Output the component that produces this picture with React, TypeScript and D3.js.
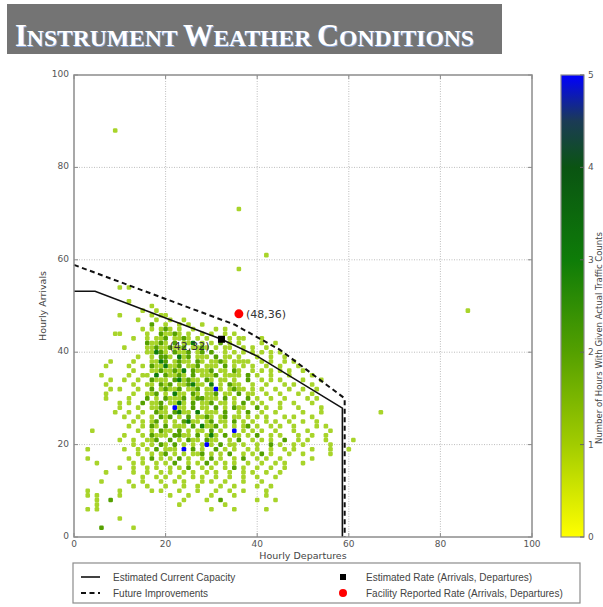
import React from "react";
import * as d3 from "d3";

const W = 603;
const H = 607;

const xTicks = [0, 20, 40, 60, 80, 100];
const yTicks = [0, 20, 40, 60, 80, 100];
const cbTicks = [0, 1, 2, 3, 4, 5];

// Traffic count grid: row i = arrivals (54 - i), char index = departures, digit = hours
const topArrivals = 54;
const countRows: string[] = [
  "..........1.1",
  "",
  "",
  "............1",
  ".................1",
  "...............1..1",
  "..........1......1.11",
  "..............1...1..1..1",
  ".................2..1..1.1..1",
  "...............1.1.121.1..1....1.1",
  ".........11.....1..21121.1..1.1..1.1",
  ".............1..1.112.1121.1.1..1.1.11...1",
  "................21121.2.113.1.1.2.1.1....1..1",
  "...........1....112112112.1121.1.11..1.1..1",
  "................11321.2112.12.2..1.1.1.1.1.1.1",
  "..............1..1.221.312.111.2.11.1...1..1..1",
  "........1....1...1132.1211.21.1121.1111..1.1..1.1",
  ".......1....1..1.2113112.112.111.2.1.1.1..1..1...1",
  ".............1...11211213.21112.11.21..1.1.1.1.1..1",
  "......1.....1..11.3.21121.2.1112.1111.2.1..1...1....1",
  "........1..1..1..2111.231211.21.11.1..2..1.1.1....1...1",
  ".......1.....1..11.212.112311.3.1.211..1..1...1.1...1",
  "........1.1...1..2.12112.112.1151.1211.1.1..1..1..1..1",
  ".......1.....1..112.1.311.21.112.11.2.11..1..1...1..1",
  ".......1....1...2.1.21112.122111.2.1..2.1..1..1....1.1",
  "..........1.1..2.112.1131.2.112.11.1.2.1.1...1..1...1",
  "..........1...1..1121.511.2.11.2.1.211..2.1..1...1....1",
  ".........1..1..1..211.2311.3.111.2..1.2..1..1.....1...1",
  "...........1..1..1.212.1.2.1121.12.11.1.1.1...1.1...1",
  ".............1.1.12.1.1.2311.12.11.2.1.1..1.1..1..1..1",
  "............1..1.21.2.111.2.3112.1.1.12.1..1.1..1....1.1",
  "....1.........1..1.211.2.1.11.2.1..5.1.1.1..1...1..1....1",
  "...........1...1.2111.2211.2.131.2.11.1.2..1.1...1..1..1",
  "..........1..1..112..2.1.211.211..1.2..1.1.1..2..1.1...1.....1",
  ".............1.1.1.21.2.1.1.151.2.11.1..1..2.1..1.1.....1",
  "...1.......1..1.1.2.111.5.2.1..2.1.1..1.1..1..1.1...1...1...1",
  "..............1..1.12.1.1.112.1.1.2..1.1.2.1...1..1.....1",
  "...1........1..1.2.1.1.2.1..1.2.1..1.2..1.1..1......1",
  ".....1.......1.1..1.1.2..1.1.2.1.1.1..1..1..1.1...1",
  "..........1..1..1.1..1.1.2..1.1..1.2.1..1..1..1",
  ".......1.....1..1..1.1..1.1..1.1..1..1.1..1..1",
  "...............1..1.1..1..1.1..1..1..1..1...1",
  "......1.....1..1...1..1.1...1.1..1...1...1",
  ".............1..1...1...1..1....1..1....1..1",
  "...1......1......1.1...1...1...1..1..1....1",
  "...1.1....1..........1...1....1....1......1",
  ".....1..2...............1....1..2.......1...1",
  ".....1.................1.........1",
  "...1.1........................1....1......1",
  "",
  "..........1",
  "",
  "......2......1",
  "",
  "",
];

const outlierDep = [9, 36, 42, 36, 86, 67];
const outlierArr = [88, 71, 61, 58, 49, 27];
const outlierCount = [1, 1, 1, 1, 1, 1];

const capacityDep = [0, 4.6, 32.2, 39.9, 58.6, 58.6];
const capacityArr = [53.2, 53.2, 42.8, 39.2, 27.9, 0];
const futureDep = [0, 35, 45, 59.1, 59.1];
const futureArr = [58.9, 46, 40.5, 30, 0];

const estimatedRate = [32.2, 42.8];
const estimatedLabel = "(42,32)";
const reportedRate = [36, 48.3];
const reportedLabel = "(48,36)";

const legendLabels = [
  "Estimated Current Capacity",
  "Future Improvements",
  "Estimated Rate (Arrivals, Departures)",
  "Facility Reported Rate (Arrivals, Departures)",
];

const colorDomain = [0, 1, 2, 3, 4, 4.5, 5];
const colorRange = ["#ffff00", "#a8d42a", "#54a000", "#0e7c08", "#0a5412", "#1b3b55", "#0000ff"];
const cbRange = ["#ffff00", "#a2cc00", "#54a000", "#0e7c08", "#0a5412", "#1b3b55", "#0000ff"];

type Cell = { d: number; a: number; c: number };

export default function App() {
  const x = d3.scaleLinear().domain([0, 100]).range([74, 532]);
  const y = d3.scaleLinear().domain([0, 100]).range([537, 75]);
  const color = d3.scaleLinear<string>().domain(colorDomain).range(colorRange);
  const cbColor = d3.scaleLinear<string>().domain(colorDomain).range(cbRange);
  const cb = d3.scaleLinear().domain([0, 5]).range([537, 75]);

  const cells: Cell[] = [];
  countRows.forEach((row, i) => {
    const a = topArrivals - i;
    for (let j = 0; j < row.length; j++) {
      const chr = row[j];
      if (chr !== ".") cells.push({ d: j, a, c: +chr });
    }
  });
  outlierDep.forEach((d, i) => cells.push({ d, a: outlierArr[i], c: outlierCount[i] }));

  const cw = x(1) - x(0);
  const ch = y(0) - y(1);

  const lineGen = d3.line<[number, number]>().x((d) => x(d[0])).y((d) => y(d[1]));
  const capPath = lineGen(capacityDep.map((d, i) => [d, capacityArr[i]] as [number, number]));
  const futPath = lineGen(futureDep.map((d, i) => [d, futureArr[i]] as [number, number]));

  const gradStops = d3.range(0, 5.01, 0.25);
  const tickFont = "DejaVu Sans, sans-serif";

  const titleParts = (
    <>
      <tspan fontSize={31}>I</tspan>
      <tspan fontSize={24}>NSTRUMENT </tspan>
      <tspan fontSize={31}>W</tspan>
      <tspan fontSize={24}>EATHER </tspan>
      <tspan fontSize={31}>C</tspan>
      <tspan fontSize={24}>ONDITIONS</tspan>
    </>
  );

  return (
    <svg width={W} height={H} style={{ position: "absolute", left: 0, top: 0, background: "#fff" }}>
      <defs>
        <linearGradient id="cbgrad" x1="0" y1="1" x2="0" y2="0">
          {gradStops.map((v) => (
            <stop key={v} offset={`${(v / 5) * 100}%`} stopColor={cbColor(v)} />
          ))}
        </linearGradient>
        <filter id="soft" x="-20%" y="-20%" width="140%" height="140%">
          <feGaussianBlur stdDeviation="0.6" />
        </filter>
      </defs>

      {/* Title banner */}
      <rect x={7} y={4} width={495} height={50} fill="#747474" />
      <text
        x={16}
        y={47}
        fontFamily="Liberation Serif, DejaVu Serif, serif"
        fontWeight="bold"
        fill="#8aa6d8"
        textLength={459}
        lengthAdjust="spacingAndGlyphs"
      >
        {titleParts}
      </text>
      <text
        x={15}
        y={46}
        fontFamily="Liberation Serif, DejaVu Serif, serif"
        fontWeight="bold"
        fill="#ffffff"
        textLength={459}
        lengthAdjust="spacingAndGlyphs"
      >
        {titleParts}
      </text>

      {/* grid */}
      {xTicks.slice(1, -1).map((t) => (
        <line key={"gx" + t} x1={x(t)} x2={x(t)} y1={y(0)} y2={y(100)} stroke="#bdbdbd" strokeDasharray="1,1.5" />
      ))}
      {yTicks.slice(1, -1).map((t) => (
        <line key={"gy" + t} x1={x(0)} x2={x(100)} y1={y(t)} y2={y(t)} stroke="#bdbdbd" strokeDasharray="1,1.5" />
      ))}

      {/* cells */}
      <g filter="url(#soft)">
        {cells.map((c, i) => (
          <rect
            key={i}
            x={x(c.d) - cw / 2}
            y={y(c.a) - ch / 2}
            width={cw}
            height={ch}
            rx={1.3}
            fill={color(c.c)}
          />
        ))}
      </g>

      {/* capacity lines */}
      <path d={futPath || ""} fill="none" stroke="#111" strokeWidth={2} strokeDasharray="5,3.5" />
      <path d={capPath || ""} fill="none" stroke="#111" strokeWidth={1.6} />

      {/* markers */}
      <rect x={x(estimatedRate[0]) - 3.5} y={y(estimatedRate[1]) - 3.5} width={7} height={7} fill="#000" />
      <text x={x(estimatedRate[0]) - 52} y={y(estimatedRate[1]) + 11} fontFamily={tickFont} fontSize={11} fill="#333">
        {estimatedLabel}
      </text>
      <circle cx={x(reportedRate[0])} cy={y(reportedRate[1])} r={4.5} fill="#ff0000" />
      <text x={x(reportedRate[0]) + 7} y={y(reportedRate[1]) + 4} fontFamily={tickFont} fontSize={11} fill="#333">
        {reportedLabel}
      </text>

      {/* axes frame */}
      <rect x={x(0)} y={y(100)} width={x(100) - x(0)} height={y(0) - y(100)} fill="none" stroke="#8c8c8c" strokeWidth={1.5} />
      {xTicks.map((t) => (
        <g key={"xt" + t}>
          <line x1={x(t)} x2={x(t)} y1={y(0)} y2={y(0) - 4} stroke="#8c8c8c" />
          <line x1={x(t)} x2={x(t)} y1={y(100)} y2={y(100) + 4} stroke="#8c8c8c" />
          <text x={x(t)} y={y(0) + 9.5} textAnchor="middle" fontFamily={tickFont} fontSize={9} fill="#555">
            {t}
          </text>
        </g>
      ))}
      {yTicks.map((t) => (
        <g key={"yt" + t}>
          <line x1={x(0)} x2={x(0) + 4} y1={y(t)} y2={y(t)} stroke="#8c8c8c" />
          <line x1={x(100)} x2={x(100) - 4} y1={y(t)} y2={y(t)} stroke="#8c8c8c" />
          <text x={x(0) - 5} y={y(t) + 2} textAnchor="end" fontFamily={tickFont} fontSize={9} fill="#555">
            {t}
          </text>
        </g>
      ))}
      <text x={(x(0) + x(100)) / 2} y={558.5} textAnchor="middle" fontFamily={tickFont} fontSize={9.5} fill="#444">
        Hourly Departures
      </text>
      <text
        transform={`translate(46,${(y(0) + y(100)) / 2}) rotate(-90)`}
        textAnchor="middle"
        fontFamily={tickFont}
        fontSize={9.5}
        fill="#444"
      >
        Hourly Arrivals
      </text>

      {/* colorbar */}
      <rect x={561} y={cb(5)} width={23} height={cb(0) - cb(5)} fill="url(#cbgrad)" stroke="#8c8c8c" strokeWidth={1.2} />
      {cbTicks.map((t) => (
        <g key={"cb" + t}>
          <line x1={580} x2={584} y1={cb(t)} y2={cb(t)} stroke="#666" />
          <text x={588} y={cb(t) + 3} fontFamily={tickFont} fontSize={9} fill="#555">
            {t}
          </text>
        </g>
      ))}
      <text
        transform={`translate(601.5,338) rotate(-90)`}
        textAnchor="middle"
        fontFamily={tickFont}
        fontSize={8.5}
        fill="#444"
      >
        Number of Hours With Given Actual Traffic Counts
      </text>

      {/* legend */}
      <rect x={73} y={563} width={507} height={40} fill="#fff" stroke="#8c8c8c" strokeWidth={1.2} />
      <line x1={81} x2={100} y1={577} y2={577} stroke="#111" strokeWidth={1.6} />
      <line x1={81} x2={100} y1={593} y2={593} stroke="#111" strokeWidth={1.8} strokeDasharray="5,3.5" />
      <rect x={340} y={574} width={6} height={6} fill="#000" />
      <circle cx={343} cy={593} r={4} fill="#ff0000" />
      {legendLabels.map((l, i) => (
        <text
          key={l}
          x={i < 2 ? 113 : 366}
          y={i % 2 === 0 ? 580.5 : 596.5}
          fontFamily="Liberation Sans, Arial, sans-serif"
          fontSize={10}
          fill="#444"
        >
          {l}
        </text>
      ))}
    </svg>
  );
}
